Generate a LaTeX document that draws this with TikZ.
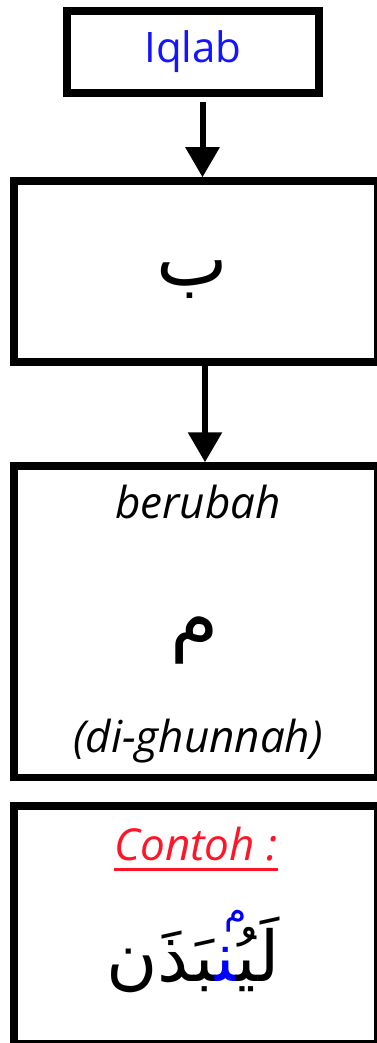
\documentclass[tikz,border=0pt]{standalone}
\usepackage{fontspec}
\usetikzlibrary{arrows.meta}
\setmainfont{Open Sans}
\newfontfamily\arabicfont[Script=Arabic]{DejaVu Sans}
\TeXXeTstate=1
\definecolor{titleblue}{RGB}{20,20,255}
\definecolor{contohred}{RGB}{255,20,40}
\tikzset{
  frame/.style={draw=black, line width=7.5pt, inner sep=0pt},
  flow/.style={line width=6pt, -{Triangle[width=33pt,length=30pt]}},
  label/.style={inner sep=0pt, font=\fontsize{44}{50}\selectfont\itshape}
}
\begin{document}
\begin{tikzpicture}[x=1pt,y=-1pt]
  \useasboundingbox (0,0) rectangle (377,1043);
  \fill[white] (0,0) rectangle (377,1043);

  % the four boxes
  \node[frame, line width=8pt, minimum width=252pt, minimum height=82pt] (iqlab) at (193,52) {};
  \node[frame, minimum width=364pt, minimum height=181pt] (ba) at (196,271.5) {};
  \node[frame, minimum width=364pt, minimum height=311.5pt] (mim) at (196,621.75) {};
  \node[frame, minimum width=364pt, minimum height=238pt] (contoh) at (196,925) {};

  % connectors
  \draw[flow, shorten <=5pt] ([xshift=9.5pt]iqlab.south) -- ([xshift=9.5pt]iqlab.south |- ba.north);
  \draw[flow] ([xshift=9pt]ba.south) -- ([xshift=9pt]ba.south |- mim.north);

  % box texts
  \node[inner sep=0pt, text=titleblue, font=\fontsize{42}{48}\selectfont] (t1) at (193,52) {Iqlab};
  \node[inner sep=0pt, font=\fontsize{76}{80}\selectfont\arabicfont] (t2) at (192,280) {ب};
  \node[label, anchor=base] (t3) at (198,518) {berubah};
  \node[inner sep=0pt, font=\fontsize{78}{84}\selectfont\arabicfont] (t4) at (195,640) {م};
  \node[label, anchor=base] (t5) at (198,752) {(di-ghunnah)};
  \node[label, anchor=base, text=contohred] (t6) at (196,860) {Contoh :};
  \draw[contohred, line width=3pt] ([yshift=-9pt]t6.base west) -- ([yshift=-9pt]t6.base east);
  % the example word, pieces set left to right, joined with ZWJ
  \node[inner sep=0pt, font=\fontsize{70}{80}\selectfont\arabicfont] (t7) at (193,955)
    {^^^^200dبَذَن{\color{blue}^^^^200dن^^^^200d}لَيُ^^^^200d};
  % small iqlab mim over the nun
  \node[inner sep=0pt, text=blue, font=\fontsize{36}{40}\selectfont\arabicfont] (t8) at (236,921) {م};
\end{tikzpicture}
\end{document}
